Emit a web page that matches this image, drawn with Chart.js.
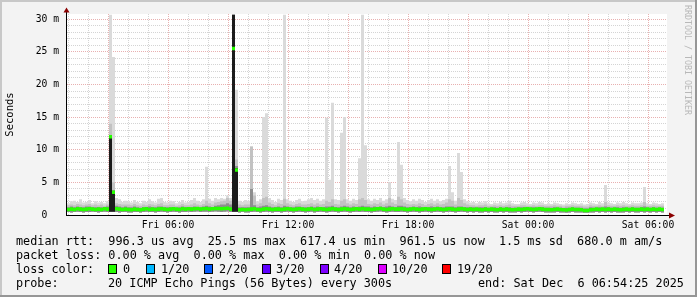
<!DOCTYPE html>
<html><head><meta charset="utf-8">
<script src="https://cdn.jsdelivr.net/npm/chart.js@4/dist/chart.umd.min.js"></script>
<style>
html,body{margin:0;padding:0;background:#f3f3f3;}
#wrap{position:relative;width:697px;height:297px;overflow:hidden;}
#c{position:absolute;left:0;top:0;}
.t{position:absolute;font-family:'DejaVu Sans Mono',monospace;font-size:11.8px;line-height:14px;white-space:pre;color:#000;}
.box{position:absolute;width:7px;height:8px;border:1px solid #000;}
#wm{position:absolute;left:683px;top:5px;font-family:'DejaVu Sans Mono',monospace;font-size:8.3px;color:#b8b8b8;writing-mode:vertical-rl;white-space:pre;line-height:10px;}
</style></head>
<body><div id="wrap"><canvas id="c" width="697" height="297"></canvas>
<div id="wm">RRDTOOL / TOBI OETIKER</div>
<div class="t" style="left:16px;top:234px">median rtt:  996.3 us avg  25.5 ms max  617.4 us min  961.5 us now  1.5 ms sd  680.0 m am/s</div>
<div class="t" style="left:16px;top:248px">packet loss: 0.00 % avg  0.00 % max  0.00 % min  0.00 % now</div>
<div class="t" style="left:16px;top:262px">loss color:</div>
<div id="loss"></div>
<div class="t" style="left:16px;top:276px">probe:</div>
<div class="t" style="left:108px;top:276px">20 ICMP Echo Pings (56 Bytes) every 300s</div>
<div class="t" style="left:478px;top:276px">end: Sat Dec  6 06:54:25 2025</div>
</div>
<script>
// ---- data (milliseconds), one value per 9-minute column, starting Fri 00:57 ----
const startMin = 57;   // minutes since Fri 00:00
const stepMin = 9;

const maxTop = [
1.8,2.1,2.2,2.0,2.4,1.9,2.0,2.3,1.8,2.1,
1.9,2.0,1.8,2.1,30.7,24.2,2.6,2.4,2.0,2.2,
2.1,1.9,2.3,2.0,1.8,2.2,2.0,2.4,2.1,1.9,
2.5,2.6,2.0,1.9,2.2,2.1,1.8,2.0,2.3,1.9,
2.0,2.3,2.6,2.2,2.0,2.4,7.4,2.5,2.2,2.6,
2.4,2.6,2.5,3.0,2.6,30.7,19.2,2.2,2.0,2.3,
2.2,10.5,3.5,2.1,2.4,15.0,15.6,2.6,2.3,2.0,
2.5,2.3,30.7,2.4,2.2,2.0,2.3,2.5,2.1,2.2,
2.4,2.6,2.3,2.5,2.2,2.4,14.9,5.4,17.2,2.4,
2.3,12.6,15.0,2.4,2.2,2.5,2.3,8.7,30.7,10.7,
2.4,2.2,2.5,2.3,2.6,2.2,2.4,5.0,2.5,2.3,
11.2,7.7,2.6,2.3,2.1,2.4,2.2,2.5,2.3,2.0,
2.3,2.5,2.2,2.4,2.1,2.3,2.5,7.5,3.5,2.2,
9.5,6.6,2.4,2.1,1.9,2.0,1.8,2.0,1.9,2.1,
1.8,1.7,1.9,1.8,2.0,1.8,1.9,2.2,1.8,1.7,
1.7,1.9,2.0,1.8,1.7,1.9,1.8,2.0,1.9,1.7,
1.8,1.7,1.9,1.8,1.7,1.6,1.8,1.7,1.9,1.8,
1.7,1.8,1.6,1.7,1.9,1.8,1.7,2.0,1.8,4.6,
1.9,1.8,1.7,1.9,1.8,2.0,1.8,1.7,1.9,1.8,
1.8,1.9,4.3,1.8,1.7,1.9,1.8,1.7,1.8];

const midTop = [
1.5,1.6,1.5,1.7,1.6,1.5,1.6,1.7,1.5,1.6,
1.5,1.6,1.4,1.6,14,5.0,1.8,1.7,1.6,1.6,
1.6,1.5,1.7,1.5,1.4,1.6,1.5,1.7,1.6,1.5,
1.7,1.8,1.5,1.5,1.6,1.6,1.4,1.5,1.7,1.5,
1.5,1.6,1.8,1.6,1.5,1.7,2.2,1.8,1.6,1.9,
2.0,2.1,2.2,2.6,2.2,30.7,8.5,1.6,1.5,1.6,
1.6,10.5,3.0,1.6,1.8,2.6,2.8,1.9,1.7,1.5,
1.8,1.7,2.5,1.8,1.6,1.5,1.7,1.8,1.6,1.6,
1.7,1.8,1.6,1.8,1.6,1.7,2.2,2.0,2.4,1.7,
1.6,2.2,2.4,1.8,1.6,1.8,1.7,2.4,2.6,2.3,
1.7,1.6,1.8,1.7,1.9,1.6,1.8,2.6,1.9,1.7,
2.8,2.4,1.9,1.7,1.6,1.7,1.6,1.8,1.7,1.5,
1.7,1.8,1.6,1.8,1.6,1.7,1.9,2.4,2.2,1.6,
2.6,2.3,1.8,1.6,1.5,1.5,1.4,1.5,1.5,1.6,
1.4,1.4,1.5,1.4,1.5,1.4,1.5,1.6,1.4,1.4,
1.4,1.5,1.5,1.4,1.4,1.5,1.4,1.5,1.5,1.4,
1.4,1.4,1.5,1.4,1.4,1.3,1.4,1.4,1.5,1.4,
1.4,1.4,1.3,1.3,1.5,1.4,1.4,1.5,1.4,2.0,
1.5,1.4,1.4,1.5,1.4,1.5,1.4,1.4,1.5,1.4,
1.4,1.5,2.0,1.4,1.4,1.5,1.4,1.4,1.4];

const darkTop = [
1.2,1.3,1.2,1.3,1.2,1.2,1.3,1.3,1.2,1.2,
1.2,1.2,1.1,1.3,12,3.8,1.4,1.3,1.2,1.3,
1.2,1.2,1.3,1.2,1.1,1.2,1.2,1.3,1.2,1.2,
1.3,1.3,1.2,1.2,1.2,1.2,1.1,1.2,1.3,1.2,
1.2,1.2,1.3,1.2,1.2,1.3,1.4,1.3,1.2,1.4,
1.5,1.6,1.6,1.8,1.6,30.7,7.5,1.2,1.2,1.2,
1.2,4.0,1.5,1.2,1.3,1.4,1.5,1.3,1.2,1.2,
1.3,1.2,1.4,1.3,1.2,1.2,1.3,1.3,1.2,1.2,
1.2,1.3,1.2,1.3,1.2,1.2,1.3,1.3,1.4,1.2,
1.2,1.3,1.4,1.3,1.2,1.3,1.2,1.3,1.4,1.3,
1.3,1.2,1.3,1.2,1.3,1.2,1.3,1.4,1.3,1.2,
1.4,1.4,1.3,1.2,1.2,1.3,1.2,1.3,1.2,1.2,
1.2,1.3,1.2,1.3,1.2,1.2,1.3,1.3,1.3,1.2,
1.3,1.3,1.2,1.2,1.2,1.2,1.1,1.2,1.2,1.2,
1.1,1.1,1.2,1.1,1.2,1.1,1.2,1.2,1.1,1.1,
1.1,1.2,1.2,1.1,1.1,1.2,1.1,1.2,1.2,1.1,
1.1,1.1,1.2,1.1,1.1,1.0,1.1,1.1,1.2,1.1,
1.1,1.1,1.0,1.0,1.2,1.1,1.1,1.2,1.1,1.3,
1.2,1.1,1.1,1.2,1.1,1.2,1.1,1.1,1.2,1.1,
1.1,1.2,1.3,1.1,1.1,1.2,1.1,1.1,1.1];

const coreTop = [
0,0,0,0,0,0,0,0,0,0,
0,0,0,0,12,3.6,0,0,0,0,
0,0,0,0,0,0,0,0,0,0,
0,0,0,0,0,0,0,0,0,0,
0,0,0,0,0,0,0,0,0,0,
0,0,0,0,0,30.7,7.2,0,0,0,
0,0,0,0,0,0,0,0,0,0,
0,0,0,0,0,0,0,0,0,0,
0,0,0,0,0,0,0,0,0,0,
0,0,0,0,0,0,0,0,0,0,
0,0,0,0,0,0,0,0,0,0,
0,0,0,0,0,0,0,0,0,0,
0,0,0,0,0,0,0,0,0,0,
0,0,0,0,0,0,0,0,0,0,
0,0,0,0,0,0,0,0,0,0,
0,0,0,0,0,0,0,0,0,0,
0,0,0,0,0,0,0,0,0,0,
0,0,0,0,0,0,0,0,0,0,
0,0,0,0,0,0,0,0,0,0,
0,0,0,0,0,0,0,0,0];

const median = [
0.85,0.9,0.85,0.95,0.9,0.85,0.9,0.95,0.9,0.85,
0.9,0.85,0.95,0.9,12,3.5,0.95,0.9,0.85,0.9,
0.85,0.8,0.9,0.85,0.8,0.9,0.95,0.85,0.9,0.85,
0.9,0.95,0.9,0.85,0.9,0.95,0.9,0.85,0.95,0.9,
0.95,0.9,0.95,1.0,0.9,0.95,1.0,0.9,0.95,1.0,
1.0,0.95,1.0,1.05,0.9,25.5,6.9,0.8,0.85,0.8,
0.85,0.9,0.95,0.85,0.8,0.9,0.95,0.9,0.85,0.9,
0.9,0.85,0.9,0.95,0.9,0.85,0.9,0.95,0.9,0.85,
0.9,0.95,0.85,0.9,0.95,0.9,0.85,0.9,0.95,0.9,
0.85,0.9,0.95,0.9,0.85,0.9,0.95,0.9,0.95,0.9,
0.9,0.85,0.9,0.95,1.0,0.9,0.85,0.9,0.95,0.9,
0.9,0.95,0.9,0.85,0.9,0.95,0.9,0.85,0.9,0.95,
0.9,0.85,0.9,0.95,0.9,0.85,0.9,0.95,0.9,0.85,
0.9,0.95,0.9,0.85,0.9,0.85,0.9,0.85,0.8,0.9,
0.85,0.9,0.85,0.8,0.9,0.85,0.9,0.85,0.8,0.85,
0.9,0.85,0.9,0.95,0.9,0.85,0.9,0.95,0.9,0.85,
0.85,0.8,0.85,0.9,0.85,0.8,0.75,0.85,0.9,0.85,
0.85,0.8,0.7,0.7,0.8,0.85,0.9,0.85,0.9,0.85,
0.9,0.85,0.9,0.85,0.8,0.85,0.9,0.85,0.9,0.85,
0.85,0.9,0.85,0.9,0.85,0.9,0.85,0.9,0.85];

const smokeLow = [
0.45,0.4,0.45,0.5,0.45,0.4,0.45,0.45,0.5,0.45,
0.4,0.45,0.5,0.45,0.5,0.5,0.45,0.4,0.45,0.45,
0.4,0.4,0.45,0.45,0.4,0.45,0.5,0.45,0.45,0.4,
0.45,0.5,0.45,0.4,0.45,0.5,0.45,0.4,0.45,0.45,
0.5,0.45,0.5,0.55,0.45,0.5,0.5,0.45,0.5,0.55,
0.5,0.45,0.5,0.55,0.45,0.5,0.5,0.4,0.45,0.4,
0.4,0.45,0.5,0.45,0.4,0.45,0.5,0.45,0.4,0.45,
0.45,0.4,0.45,0.5,0.45,0.4,0.45,0.5,0.45,0.4,
0.45,0.5,0.4,0.45,0.5,0.45,0.4,0.45,0.5,0.45,
0.4,0.45,0.5,0.45,0.4,0.45,0.5,0.45,0.5,0.45,
0.45,0.4,0.45,0.5,0.55,0.45,0.4,0.45,0.5,0.45,
0.45,0.5,0.45,0.4,0.45,0.5,0.45,0.4,0.45,0.5,
0.45,0.4,0.45,0.5,0.45,0.4,0.45,0.5,0.45,0.4,
0.45,0.5,0.45,0.4,0.45,0.4,0.45,0.4,0.4,0.45,
0.4,0.45,0.4,0.4,0.45,0.4,0.45,0.4,0.4,0.4,
0.45,0.4,0.45,0.5,0.45,0.4,0.45,0.5,0.45,0.4,
0.4,0.4,0.4,0.45,0.4,0.4,0.35,0.4,0.45,0.4,
0.4,0.4,0.35,0.35,0.4,0.4,0.45,0.4,0.45,0.4,
0.45,0.4,0.45,0.4,0.4,0.4,0.45,0.4,0.45,0.4,
0.4,0.45,0.4,0.45,0.4,0.45,0.4,0.45,0.4];

// axis ticks / labels
const xTickValues = [360, 720, 1080, 1440, 1800];
const xTickLabels = ['Fri 06:00', 'Fri 12:00', 'Fri 18:00', 'Sat 00:00', 'Sat 06:00'];
const yTickValues = [0, 5, 10, 15, 20, 25, 30];
const yTickLabels = ['0  ', '5 m', '10 m', '15 m', '20 m', '25 m', '30 m'];

const lossLabels = ['0', '1/20', '2/20', '3/20', '4/20', '10/20', '19/20'];
const lossColors = ['#26ff00', '#00b8ff', '#0059ff', '#5e00ff', '#7e00ff', '#dd00ff', '#ff0000'];

// ---- legend (loss colours) ----
const boxX = [108, 146, 204, 262, 320, 378, 442];
const labX = [123, 161, 219, 276, 334, 392, 457];
const lossDiv = document.getElementById('loss');
lossLabels.forEach((lab, i) => {
  const b = document.createElement('div');
  b.className = 'box';
  b.style.left = boxX[i] + 'px'; b.style.top = '264px'; b.style.background = lossColors[i];
  lossDiv.appendChild(b);
  const t = document.createElement('div');
  t.className = 't'; t.textContent = lab;
  t.style.left = labX[i] + 'px'; t.style.top = '262px';
  lossDiv.appendChild(t);
});

// ---- build datasets ----
const N = maxTop.length;
function pts(arr, fn) {
  const out = arr.map((v, i) => ({x: startMin + stepMin * i, y: fn ? fn(v, i) : v}));
  const last = out[out.length - 1];
  out.push({x: startMin + stepMin * N, y: last.y});
  return out;
}
const HALF = 0.27; // half thickness of the median band
const LOW_IDX = 6;
const common = {stepped: true, pointRadius: 0, borderWidth: 0, tension: 0};
const datasets = [
  Object.assign({label: 'medHi', data: pts(median, v => v + HALF), fill: 1, backgroundColor: lossColors[0]}, common),
  Object.assign({label: 'medLo', data: pts(median, v => v - HALF), fill: false}, common),
  Object.assign({label: 'core', data: pts(coreTop, (v, i) => Math.max(v, smokeLow[i])), fill: LOW_IDX, backgroundColor: '#1c1c1c'}, common),
  Object.assign({label: 'dark', data: pts(darkTop), fill: LOW_IDX, backgroundColor: '#8e8e8e'}, common),
  Object.assign({label: 'mid', data: pts(midTop), fill: LOW_IDX, backgroundColor: '#c2c2c2'}, common),
  Object.assign({label: 'max', data: pts(maxTop), fill: LOW_IDX, backgroundColor: '#dadada'}, common),
  Object.assign({label: 'low', data: pts(smokeLow), fill: false}, common)
];

const hourly = [];
for (let m = 60; m <= 1800; m += 60) hourly.push(m);
const yMinor = [];
for (let v = 0; v <= 30; v += 1) yMinor.push(v);

const MAJOR = '#e8b0b0', MINOR = '#d4d4d4';
const axFont = {family: 'DejaVu Sans Mono', size: 9.7};

const decor = {
  id: 'decor',
  beforeDraw(chart) {
    const c = chart.ctx, a = chart.chartArea;
    c.save();
    c.fillStyle = '#f3f3f3'; c.fillRect(0, 0, 697, 297);
    c.fillStyle = '#ffffff'; c.fillRect(a.left, a.top, a.right - a.left, a.bottom - a.top);
    c.fillStyle = '#c8c8c8'; c.fillRect(0, 0, 697, 2); c.fillRect(0, 0, 2, 297);
    c.fillStyle = '#969696'; c.fillRect(0, 295, 697, 2); c.fillRect(695, 0, 2, 297);
    c.restore();
  },
  afterDraw(chart) {
    const c = chart.ctx, a = chart.chartArea;
    c.save();
    c.strokeStyle = '#000'; c.lineWidth = 1;
    c.beginPath();
    c.moveTo(a.left - 1, a.bottom + 0.5); c.lineTo(a.right + 2, a.bottom + 0.5);
    c.moveTo(a.left - 0.5, a.bottom + 1); c.lineTo(a.left - 0.5, a.top - 2);
    c.stroke();
    c.fillStyle = '#8b0000';
    c.beginPath();
    c.moveTo(a.left - 0.5, a.top - 6.5); c.lineTo(a.left - 3.5, a.top - 1.5); c.lineTo(a.left + 2.5, a.top - 1.5); c.closePath();
    c.fill();
    c.beginPath();
    c.moveTo(a.right + 8, a.bottom + 0.5); c.lineTo(a.right + 2, a.bottom - 2.5); c.lineTo(a.right + 2, a.bottom + 3.5); c.closePath();
    c.fill();
    c.restore();
  }
};

new Chart(document.getElementById('c'), {
  type: 'line',
  data: {datasets},
  plugins: [decor],
  options: {
    responsive: false, animation: false, devicePixelRatio: 1,
    layout: {padding: {top: 14, right: 30, bottom: 0, left: 0}},
    plugins: {legend: {display: false}, tooltip: {enabled: false}},
    scales: {
      x: {
        type: 'linear', min: startMin, max: startMin + 1800,
        afterBuildTicks: s => { s.ticks = hourly.map(v => ({value: v})); },
        afterFit: s => { s.height = 82; },
        grid: {color: c => (c.tick && c.tick.value % 180 === 0) ? MAJOR : MINOR, lineWidth: 1, drawTicks: false},
        border: {display: false, dash: [1, 1]},
        ticks: {autoSkip: false, maxRotation: 0, minRotation: 0, padding: 5, color: '#000', font: axFont,
          callback: v => { const k = xTickValues.indexOf(v); return k >= 0 ? xTickLabels[k] : ''; }}
      },
      y: {
        type: 'linear', min: 0, max: 30.8,
        afterBuildTicks: s => { s.ticks = yMinor.map(v => ({value: v})); },
        afterFit: s => { s.width = 67; },
        grid: {color: c => (c.tick && c.tick.value % 5 === 0) ? MAJOR : MINOR, lineWidth: 1, drawTicks: false},
        border: {display: false, dash: [1, 1]},
        ticks: {autoSkip: false, padding: 8, color: '#000', font: axFont,
          callback: v => { const k = yTickValues.indexOf(v); return k >= 0 ? yTickLabels[k] : ''; }},
        title: {display: true, text: 'Seconds', color: '#000', font: {family: 'DejaVu Sans Mono', size: 10.5}, padding: {top: 4, bottom: 0}}
      }
    }
  }
});
</script>
</body></html>
